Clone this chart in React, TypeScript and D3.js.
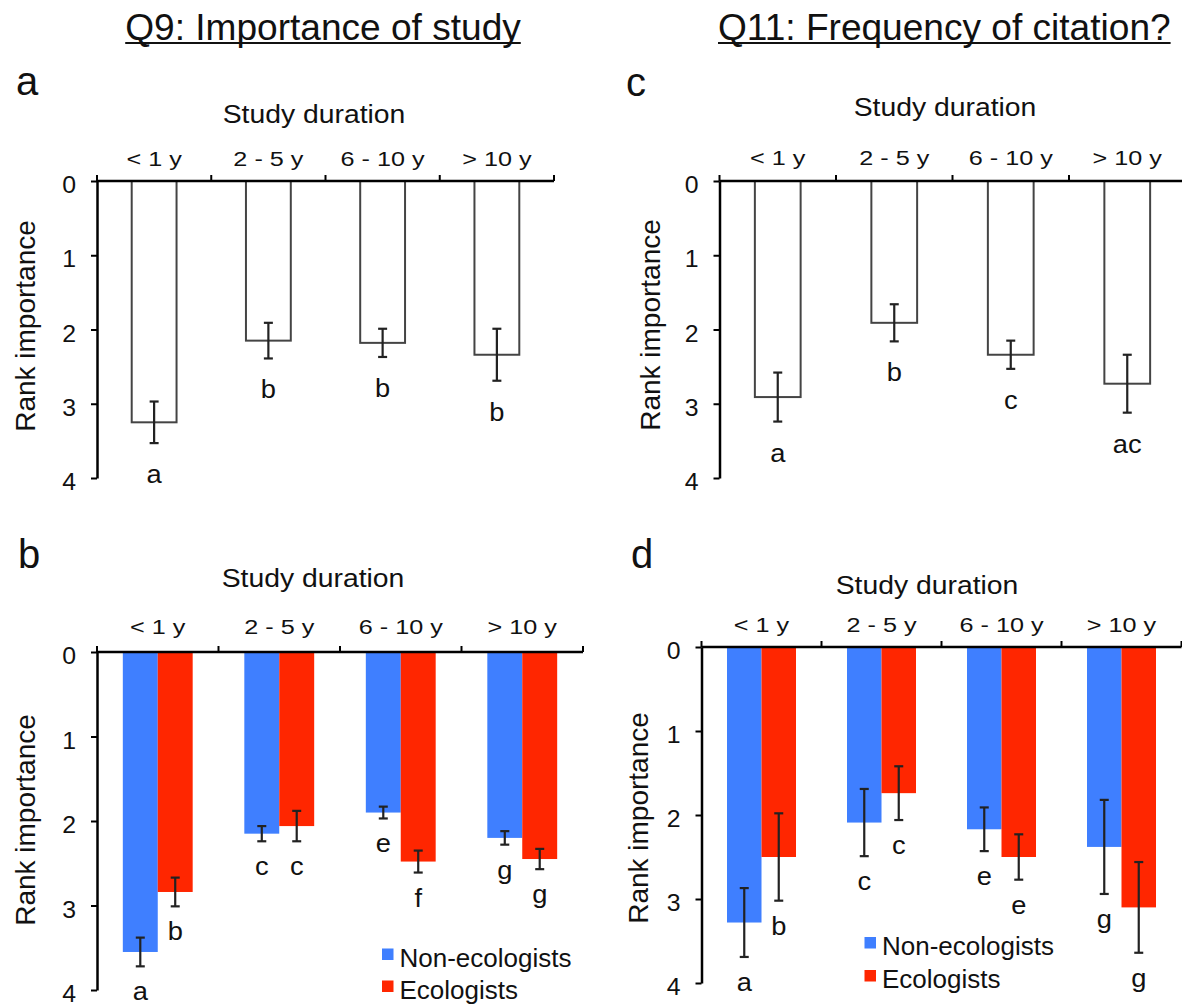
import React, { useEffect, useRef } from 'react';
import * as d3 from 'd3';

// study duration classes and rank axis
const durations = ['< 1 y', '2 - 5 y', '6 - 10 y', '> 10 y'];
const rankTicks = [0, 1, 2, 3, 4];
const groups = ['Non-ecologists', 'Ecologists'];

// Q9 all respondents (panel a)
const q9AllMean = [3.25, 2.15, 2.18, 2.34];
const q9AllErr = [0.28, 0.24, 0.19, 0.35];
const q9AllLetters = ['a', 'b', 'b', 'b'];

// Q9 by group (panel b)
const q9NonEcoMean = [3.55, 2.15, 1.9, 2.2];
const q9NonEcoErr = [0.17, 0.09, 0.07, 0.08];
const q9NonEcoLetters = ['a', 'c', 'e', 'g'];
const q9EcoMean = [2.84, 2.06, 2.48, 2.45];
const q9EcoErr = [0.17, 0.18, 0.13, 0.12];
const q9EcoLetters = ['b', 'c', 'f', 'g'];

// Q11 all respondents (panel c)
const q11AllMean = [2.91, 1.91, 2.34, 2.73];
const q11AllErr = [0.33, 0.25, 0.19, 0.39];
const q11AllLetters = ['a', 'b', 'c', 'ac'];

// Q11 by group (panel d)
const q11NonEcoMean = [3.28, 2.09, 2.17, 2.38];
const q11NonEcoErr = [0.41, 0.4, 0.26, 0.56];
const q11NonEcoLetters = ['a', 'c', 'e', 'g'];
const q11EcoMean = [2.5, 1.74, 2.5, 3.1];
const q11EcoErr = [0.52, 0.32, 0.27, 0.54];
const q11EcoLetters = ['b', 'c', 'e', 'g'];

const BLUE = '#3f7fff';
const RED = '#ff2600';
const FONT = '"Liberation Sans", Arial, Helvetica, sans-serif';

// text helper, k = horizontal stretch of the glyphs
const txt = (g, x, y, s, size, anchor = 'middle', k = 1) =>
  g.append('text')
    .attr('transform', `translate(${x},${y}) scale(${k},1)`)
    .attr('text-anchor', anchor)
    .attr('font-size', size)
    .attr('fill', '#111')
    .text(s);

function drawPanel(svg, p) {
  const g = svg.append('g');
  const y = d3.scaleLinear().domain([0, 4]).range([p.y0, p.y4]);
  const x = d3.scaleBand().domain(durations).range([p.x0, p.x1]).padding(0);
  const band = x.bandwidth();
  const gw = band * p.frac;
  const inner = d3.scaleBand().domain(p.series.map(s => s.name)).range([0, gw]);

  p.series.forEach(s => {
    const rows = durations.map((d, i) => ({
      d, m: s.mean[i], e: s.err[i], l: s.letters[i],
      cx: x(d) + (band - gw) / 2 + inner(s.name) + inner.bandwidth() / 2
    }));

    g.selectAll(null).data(rows).enter().append('rect')
      .attr('x', r => r.cx - inner.bandwidth() / 2 + (s.stroke ? 1 : 0))
      .attr('y', y(0))
      .attr('width', inner.bandwidth() - (s.stroke ? 2 : 0))
      .attr('height', r => y(r.m) - y(0))
      .attr('fill', s.fill)
      .attr('stroke', s.stroke || 'none')
      .attr('stroke-width', 2);

    const eb = g.selectAll(null).data(rows).enter().append('g').attr('stroke', '#222').attr('stroke-width', 2.2);
    eb.append('line').attr('x1', r => r.cx).attr('x2', r => r.cx)
      .attr('y1', r => y(r.m - r.e)).attr('y2', r => y(r.m + r.e));
    eb.append('line').attr('x1', r => r.cx - 4.5).attr('x2', r => r.cx + 4.5)
      .attr('y1', r => y(r.m - r.e)).attr('y2', r => y(r.m - r.e));
    eb.append('line').attr('x1', r => r.cx - 4.5).attr('x2', r => r.cx + 4.5)
      .attr('y1', r => y(r.m + r.e)).attr('y2', r => y(r.m + r.e));

    rows.forEach(r => txt(g, r.cx, y(r.m + r.e) + p.letterGap, r.l, 26, 'middle', 1.05));
  });

  // top category axis
  g.append('line').attr('x1', p.x0).attr('x2', p.x1).attr('y1', p.y0).attr('y2', p.y0)
    .attr('stroke', '#000').attr('stroke-width', 2.5);
  g.selectAll(null).data(d3.range(durations.length + 1)).enter().append('line')
    .attr('x1', i => p.x0 + i * band).attr('x2', i => p.x0 + i * band)
    .attr('y1', p.y0).attr('y2', p.y0 - 6)
    .attr('stroke', '#000').attr('stroke-width', 2);
  durations.forEach(d => txt(g, x(d) + band / 2, p.catY, d, 21, 'middle', 1.2));
  txt(g, p.durX, p.durY, 'Study duration', 26, 'middle', 1.09);

  // rank axis
  const ax = g.append('g').attr('transform', `translate(${p.x0},0)`)
    .call(d3.axisLeft(y).tickValues(rankTicks).tickSize(6).tickSizeOuter(0).tickFormat(d3.format('d')));
  ax.select('.domain').attr('stroke', '#000').attr('stroke-width', 2.5);
  ax.selectAll('.tick line').attr('stroke', '#000').attr('stroke-width', 2);
  ax.selectAll('.tick text')
    .attr('x', -21 / 1.08).attr('y', 11.5).attr('dy', null)
    .attr('transform', 'scale(1.08,1)')
    .attr('font-size', 23).attr('font-family', FONT).attr('fill', '#111');

  g.append('text')
    .attr('transform', `translate(${p.x0 - p.titleGap},${p.titleY}) rotate(-90)`)
    .attr('text-anchor', 'middle').attr('font-size', 28).attr('fill', '#111')
    .text('Rank importance');

  txt(g, p.tagX, p.tagY, p.tag, 40, 'start');

  if (p.legend) {
    const L = p.legend;
    p.series.forEach((s, i) => {
      g.append('rect').attr('x', L.x).attr('y', L.y + i * L.dy)
        .attr('width', L.size).attr('height', L.size).attr('fill', s.fill);
      txt(g, L.x + L.size + 6, L.y + i * L.dy + 18, s.name, 26, 'start');
    });
  }
}

export default function App() {
  const ref = useRef(null);

  useEffect(() => {
    const svg = d3.select(ref.current);
    svg.selectAll('*').remove();
    svg.attr('font-family', FONT);

    // column headings
    [['Q9: Importance of study', 323, 'middle'], ['Q11: Frequency of citation?', 718, 'start']].forEach(([s, x, a]) => {
      const k = 1.03;
      const t = txt(svg, x, 39.5, s, 36, a, k);
      const w = t.node().getComputedTextLength() * k;
      const left = a === 'middle' ? x - w / 2 : x;
      svg.append('line').attr('x1', left).attr('x2', left + w).attr('y1', 43).attr('y2', 43)
        .attr('stroke', '#111').attr('stroke-width', 2);
    });

    const single = (mean, err, letters) => [{ name: 'all', mean, err, letters, fill: '#fff', stroke: '#444' }];
    const pair = (m1, e1, l1, m2, e2, l2) => [
      { name: groups[0], mean: m1, err: e1, letters: l1, fill: BLUE },
      { name: groups[1], mean: m2, err: e2, letters: l2, fill: RED }
    ];

    drawPanel(svg, {
      tag: 'a', tagX: 16, tagY: 95, x0: 97, x1: 554, y0: 181, y4: 478, frac: 0.41,
      catY: 166, durX: 314, durY: 123, titleGap: 62, titleY: 326, letterGap: 40,
      series: single(q9AllMean, q9AllErr, q9AllLetters)
    });
    drawPanel(svg, {
      tag: 'c', tagX: 626, tagY: 96, x0: 719.5, x1: 1185.5, y0: 181, y4: 478, frac: 0.41,
      catY: 165, durX: 945, durY: 116, titleGap: 59.5, titleY: 325, letterGap: 40,
      series: single(q11AllMean, q11AllErr, q11AllLetters)
    });
    drawPanel(svg, {
      tag: 'b', tagX: 18, tagY: 568, x0: 97, x1: 583, y0: 652, y4: 990, frac: 0.575,
      catY: 634, durX: 313, durY: 587, titleGap: 62, titleY: 820, letterGap: 34,
      series: pair(q9NonEcoMean, q9NonEcoErr, q9NonEcoLetters, q9EcoMean, q9EcoErr, q9EcoLetters),
      legend: { x: 382, y: 948.5, dy: 32, size: 11.5 }
    });
    drawPanel(svg, {
      tag: 'd', tagX: 631, tagY: 568, x0: 701.5, x1: 1181.5, y0: 647, y4: 983, frac: 0.575,
      catY: 632, durX: 927, durY: 594, titleGap: 53.5, titleY: 818, letterGap: 34,
      series: pair(q11NonEcoMean, q11NonEcoErr, q11NonEcoLetters, q11EcoMean, q11EcoErr, q11EcoLetters),
      legend: { x: 864.5, y: 937, dy: 33, size: 11.5 }
    });
  }, []);

  return (
    <svg ref={ref} width={1182} height={1007}
      style={{ position: 'absolute', left: 0, top: 0, background: '#fff' }} />
  );
}
